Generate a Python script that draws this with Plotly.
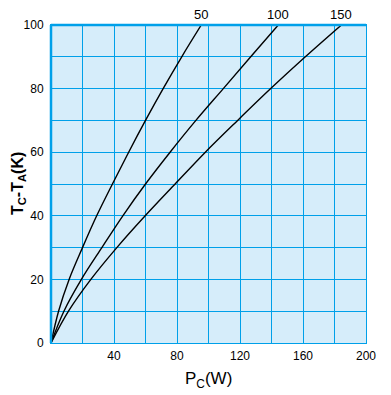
import plotly.graph_objects as go

# Data
temp_rise = [0, 10, 20, 30, 40, 50, 60, 70, 80, 90, 100]  # Tc-Ta (K)
pc_50 = [0, 4.8, 11.5, 20.0, 29.0, 39.0, 49.3, 60.0, 71.2, 83.0, 95.4]
pc_100 = [0, 8.2, 19.3, 32.3, 45.6, 60.0, 75.6, 92.0, 109.4, 126.8, 144.3]
pc_150 = [0, 11.1, 25.3, 41.8, 59.8, 78.8, 98.0, 118.5, 139.5, 161.5, 184.4]
series_names = ["50", "100", "150"]

x_tickvals = list(range(0, 201, 20))
x_ticktext = ["", "", "40", "", "80", "", "120", "", "160", "", "200"]
y_tickvals = list(range(0, 101, 10))
y_ticktext = ["0", "", "20", "", "40", "", "60", "", "80", "", "100"]

GRID = "rgb(0,160,233)"
BG = "rgb(214,237,250)"
FONT = "Liberation Sans, Arial, sans-serif"

fig = go.Figure()
for name, xs in zip(series_names, [pc_50, pc_100, pc_150]):
    fig.add_trace(go.Scatter(x=xs, y=temp_rise, mode="lines", name=name,
                             line=dict(color="black", width=1.4, shape="spline", smoothing=1.0),
                             hoverinfo="skip", showlegend=False))
    fig.add_annotation(x=xs[-1], y=temp_rise[-1], text=name, showarrow=False,
                       xref="x", yref="y", yanchor="bottom", yshift=1,
                       font=dict(family=FONT, size=13, color="black"))

fig.update_layout(
    width=391, height=395,
    margin=dict(l=51, r=25, t=25, b=52),
    paper_bgcolor="white", plot_bgcolor=BG,
    font=dict(family=FONT, size=12, color="black"),
    xaxis=dict(range=[0, 200], tickvals=x_tickvals, ticktext=x_ticktext,
               showgrid=True, gridcolor=GRID, gridwidth=1,
               showline=True, linecolor=GRID, linewidth=1, mirror=True,
               zeroline=False, ticks="", ticklabelstandoff=2, fixedrange=True),
    yaxis=dict(range=[0, 100], tickvals=y_tickvals, ticktext=y_ticktext,
               showgrid=True, gridcolor=GRID, gridwidth=1,
               showline=True, linecolor=GRID, linewidth=1, mirror=True,
               zeroline=False, ticks="", ticklabelstandoff=4, fixedrange=True),
    shapes=[
        dict(type="line", xref="paper", yref="paper", x0=0, x1=0, y0=0, y1=1,
             line=dict(color=GRID, width=2.5)),
        dict(type="line", xref="paper", yref="paper", x0=0, x1=1, y0=1, y1=1,
             line=dict(color=GRID, width=2.5)),
    ],
)

fig.add_annotation(xref="paper", yref="paper", x=0.5, y=0, yshift=-24,
                   xanchor="center", yanchor="top", showarrow=False,
                   text="P<sub>C</sub>(W)",
                   font=dict(family=FONT, size=17, color="black"))
fig.add_annotation(xref="paper", yref="paper", x=0, xshift=-33, y=0.5,
                   xanchor="center", yanchor="middle", showarrow=False, textangle=-90,
                   text="<b>T<sub>C</sub>-T<sub>A</sub>(K)</b>",
                   font=dict(family=FONT, size=16, color="black"))

fig.write_html("out.html")
